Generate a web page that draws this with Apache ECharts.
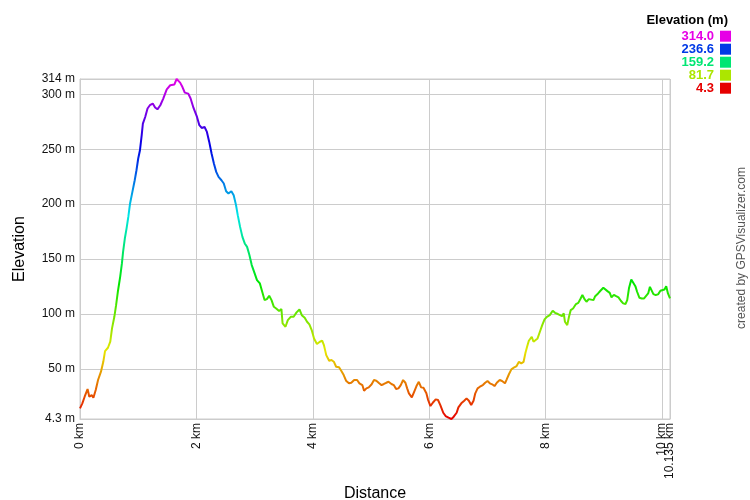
<!DOCTYPE html>
<html>
<head>
<meta charset="utf-8">
<script src="https://cdn.jsdelivr.net/npm/echarts@6/dist/echarts.min.js"></script>
<style>html,body{margin:0;padding:0;background:#fff}#c{width:750px;height:500px}</style>
</head>
<body>
<div id="c"></div>
<script>
// Distance (km)
var distance = [0.00,0.04,0.08,0.13,0.16,0.20,0.23,0.27,0.31,0.36,0.40,0.43,0.48,0.52,0.55,0.59,0.62,0.65,0.69,0.72,0.74,0.77,0.80,0.83,0.86,0.90,0.94,0.97,1.00,1.03,1.06,1.08,1.12,1.16,1.20,1.25,1.29,1.33,1.38,1.43,1.49,1.55,1.62,1.66,1.72,1.76,1.80,1.86,1.90,1.95,2.01,2.05,2.09,2.14,2.18,2.22,2.26,2.30,2.34,2.38,2.43,2.47,2.51,2.55,2.60,2.64,2.68,2.71,2.75,2.79,2.83,2.87,2.91,2.95,3.00,3.04,3.09,3.13,3.17,3.21,3.25,3.29,3.33,3.37,3.42,3.46,3.48,3.53,3.57,3.62,3.67,3.72,3.77,3.81,3.86,3.90,3.94,3.98,4.02,4.07,4.12,4.16,4.19,4.23,4.28,4.32,4.36,4.40,4.45,4.49,4.53,4.57,4.62,4.66,4.71,4.76,4.80,4.85,4.88,4.92,4.96,5.01,5.05,5.09,5.14,5.18,5.22,5.26,5.30,5.35,5.39,5.43,5.47,5.51,5.55,5.59,5.62,5.65,5.70,5.74,5.78,5.82,5.86,5.90,5.95,5.98,6.02,6.06,6.11,6.15,6.19,6.24,6.28,6.33,6.38,6.42,6.47,6.50,6.55,6.60,6.64,6.68,6.72,6.76,6.79,6.83,6.87,6.92,6.96,7.00,7.04,7.08,7.12,7.16,7.21,7.25,7.30,7.33,7.37,7.41,7.46,7.50,7.54,7.58,7.62,7.65,7.68,7.71,7.76,7.79,7.82,7.86,7.90,7.94,7.98,8.02,8.07,8.12,8.16,8.21,8.24,8.28,8.31,8.33,8.37,8.40,8.43,8.47,8.52,8.56,8.60,8.63,8.67,8.70,8.74,8.77,8.82,8.85,8.90,8.94,8.99,9.02,9.06,9.10,9.13,9.17,9.21,9.25,9.29,9.33,9.37,9.40,9.43,9.47,9.50,9.54,9.57,9.61,9.65,9.69,9.72,9.76,9.79,9.82,9.85,9.89,9.93,9.97,10.00,10.04,10.07,10.10,10.135];
// Elevation (m)
var elevation = [14.0,18.6,24.6,31.6,24.6,26.1,23.7,30.7,39.8,47.4,56.4,66.2,69.2,74.7,86.8,97.4,108.0,120.2,133.8,146.0,156.6,168.7,177.9,188.4,200.6,211.2,221.8,230.9,241.6,249.1,262.8,273.4,279.4,287.1,290.1,291.6,288.0,286.4,290.1,296.2,304.6,308.3,308.9,314.0,310.7,306.7,301.6,300.7,296.2,287.6,279.4,271.9,269.4,270.3,265.8,256.7,246.1,237.0,229.4,224.8,221.8,218.8,211.8,209.7,211.8,208.2,199.1,190.0,179.3,170.2,164.2,161.1,153.6,144.5,136.9,130.8,127.8,120.2,112.6,113.5,116.5,112.6,106.5,105.0,102.6,104.4,91.4,88.3,94.4,97.4,97.4,101.4,104.1,98.9,96.5,92.9,90.5,85.3,77.7,72.6,74.7,75.6,71.6,62.5,57.4,58.0,56.5,51.9,51.4,48.0,44.3,39.2,36.8,37.3,39.8,39.8,36.8,35.2,30.1,32.2,33.1,35.9,39.8,39.2,36.8,35.2,36.2,37.3,38.2,36.2,35.2,31.6,32.2,35.2,39.8,37.3,32.2,27.7,24.0,29.1,34.3,38.2,33.1,32.8,27.7,21.6,16.1,19.1,22.2,21.6,17.0,10.0,7.0,5.5,4.3,6.4,10.0,14.9,18.6,21.0,23.1,21.0,17.0,21.0,27.7,32.2,33.7,35.2,37.3,38.9,36.8,35.9,34.3,37.3,39.8,38.9,36.8,40.4,45.3,49.5,51.4,52.5,56.4,55.0,56.4,64.1,70.1,75.6,79.2,74.7,73.2,77.7,83.8,89.8,95.0,97.4,98.9,102.9,101.0,99.9,101.0,98.0,100.5,92.9,89.8,97.4,103.5,105.0,109.0,110.1,114.1,117.2,113.2,111.1,113.5,112.0,112.6,116.2,118.7,121.1,123.8,123.3,120.8,119.2,115.1,117.4,116.2,115.1,112.0,109.6,109.0,112.6,123.3,131.4,130.2,125.3,120.2,114.7,114.1,114.1,113.5,118.7,124.7,125.3,118.1,117.2,117.8,121.1,121.1,122.3,125.3,118.7,114.1];
// Tick label values
var xTickValues = [0, 2, 4, 6, 8, 10];
var xEndTickValues = [10.135];
var yTickValues = [4.3, 50, 100, 150, 200, 250, 300, 314];
// Legend values and colours
var legendValues = ['314.0','236.6','159.2','81.7','4.3'];
var legendColors = ['#e600e6','#0039e6','#00e673','#ace600','#e60000'];
var rampColors = ['#e60000','#e67300','#e6e600','#73e600','#00e600','#00e673','#00e6e6','#0073e6','#0000e6','#7300e6','#e600e6'];
var elevMin = 4.3, elevMax = 314, distMax = 10.135;

var pts = distance.map(function(d,i){return [d, elevation[i]];});
var FONT = '"Liberation Sans", Arial, sans-serif';

var graphics = [{
  type:'text', right: 22, top: 14,
  style:{text:'Elevation (m)', font:'bold 13px ' + FONT, fill:'#000'}
}];
legendValues.forEach(function(v,i){
  var cy = 36.2 + i*13;
  graphics.push({type:'text', x:714, y:cy, style:{text:v, font:'bold 13px ' + FONT, fill:legendColors[i], align:'right', verticalAlign:'middle'}});
  graphics.push({type:'rect', shape:{x:720, y:cy-5.5, width:11, height:11}, style:{fill:legendColors[i]}});
});
graphics.push({type:'text', x:742, y:248, rotation:Math.PI/2,
  style:{text:'created by GPSVisualizer.com', font:'12px ' + FONT, fill:'#555', align:'center', verticalAlign:'middle'}});

var kmFmt = function(v){return v + ' km';};

var chart = echarts.init(document.getElementById('c'), null, {renderer:'canvas'});
chart.setOption({
  animation:false,
  backgroundColor:'#fff',
  textStyle:{fontFamily:FONT},
  grid:{left:80, right:80, top:79, bottom:81, show:true, borderColor:'#cccccc', borderWidth:1, containLabel:false, outerBoundsMode:'none'},
  xAxis:[{
    type:'value', min:0, max:distMax, splitNumber:5,
    name:'Distance', nameLocation:'middle', nameGap:67,
    nameTextStyle:{fontSize:16, color:'#000', fontFamily:FONT},
    axisLine:{lineStyle:{color:'#cccccc'}}, axisTick:{show:false},
    axisLabel:{rotate:90, fontSize:12, color:'#111', margin:4, hideOverlap:false,
      customValues:xTickValues, formatter:kmFmt},
    splitLine:{show:true, lineStyle:{color:'#cccccc', width:1}}
  },{
    type:'value', min:0, max:distMax, position:'bottom', offset:0,
    axisLine:{show:false}, axisTick:{show:false}, splitLine:{show:false},
    axisLabel:{rotate:90, fontSize:12, color:'#111', margin:4, hideOverlap:false,
      customValues:xEndTickValues, formatter:kmFmt}
  }],
  yAxis:{
    type:'value', min:elevMin, max:elevMax, splitNumber:6,
    name:'Elevation', nameLocation:'middle', nameGap:52,
    nameTextStyle:{fontSize:16, color:'#000', fontFamily:FONT},
    axisLine:{lineStyle:{color:'#cccccc'}}, axisTick:{show:false},
    axisLabel:{fontSize:12, color:'#111', margin:5, hideOverlap:false,
      customValues:yTickValues, formatter:function(v){return v + ' m';}},
    splitLine:{show:true, lineStyle:{color:'#cccccc', width:1}}
  },
  visualMap:{type:'continuous', show:false, dimension:1, min:elevMin, max:elevMax, inRange:{color:rampColors}},
  series:[{type:'line', xAxisIndex:0, data:pts, showSymbol:false, smooth:false, lineStyle:{width:2}}],
  graphic:graphics
});
</script>
</body>
</html>
